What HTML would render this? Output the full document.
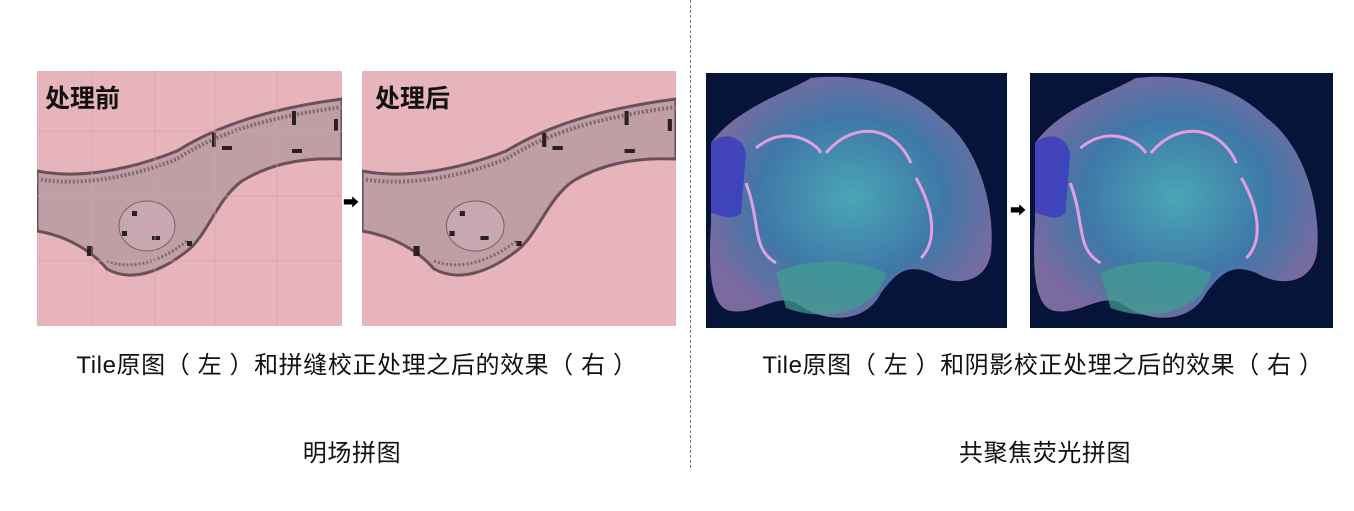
<!DOCTYPE html>
<html><head><meta charset="utf-8"><style>
body{margin:0;width:1354px;height:511px;background:#fff;position:relative;overflow:hidden;font-family:"Liberation Sans","Noto Sans CJK SC",sans-serif;}
.a{position:absolute}
.cap{position:absolute;font-size:24px;color:#111;white-space:nowrap;transform:translateX(-50%);letter-spacing:0.6px}
.lab{position:absolute;font-size:25px;color:#111;font-weight:bold;font-family:"Liberation Sans","Noto Sans CJK SC",sans-serif}
</style></head><body>
<svg width="0" height="0" style="position:absolute">
<defs>
<symbol id="leaf" viewBox="0 0 305 255" preserveAspectRatio="none">
<rect width="305" height="255" fill="#e8b4bc"/>
<path d="M0,100 C40,108 90,100 140,80 C180,55 230,38 305,28 L305,88 C260,86 230,95 205,110 C180,128 170,165 150,180 C125,200 95,212 70,198 C55,180 30,165 0,160 Z" fill="#c09ea6" stroke="#6a5058" stroke-width="3"/>
<path d="M0,108 C40,115 90,108 140,88 C180,62 230,46 305,36" fill="none" stroke="#806870" stroke-width="4" stroke-dasharray="2 2"/>
<path d="M70,190 C95,200 125,190 150,170" fill="none" stroke="#806870" stroke-width="3" stroke-dasharray="2 2"/>
<ellipse cx="110" cy="155" rx="28" ry="25" fill="#c8a8b0" stroke="#7a6068"/>
<g fill="#2a2024"><rect x="175" y="62" width="4" height="14"/><rect x="255" y="40" width="4" height="14"/><rect x="297" y="48" width="4" height="12"/><rect x="185" y="75" width="10" height="4"/><rect x="255" y="78" width="10" height="4"/><rect x="95" y="140" width="5" height="5"/><rect x="115" y="165" width="8" height="4"/><rect x="150" y="170" width="5" height="5"/><rect x="85" y="160" width="5" height="5"/><rect x="50" y="175" width="6" height="10"/></g>
</symbol>
<radialGradient id="bg1" cx="50%" cy="50%" r="55%"><stop offset="0" stop-color="#4aa6b6"/><stop offset=".6" stop-color="#3f78a8"/><stop offset="1" stop-color="#7a6aa0"/></radialGradient>
<symbol id="brain" viewBox="0 0 301 255" preserveAspectRatio="none">
<rect width="301" height="255" fill="#07143a"/>
<path d="M5,70 C30,35 80,20 105,5 C150,0 200,10 235,45 C270,70 290,130 285,180 C280,210 250,215 225,200 C200,190 190,200 175,220 C160,250 120,252 90,230 C70,220 50,242 25,238 C5,235 2,200 5,150 Z" fill="url(#bg1)"/>
<path d="M5,70 C15,60 35,60 40,80 L35,140 C25,150 10,140 5,140 Z" fill="#3a3ac0" opacity=".8"/>
<path d="M50,75 C80,50 110,70 115,80 M120,80 C150,45 190,55 205,90 M40,110 C55,150 45,175 70,190 M210,105 C230,140 230,170 215,185" fill="none" stroke="#e0a0e0" stroke-width="3"/>
<path d="M70,200 C100,185 150,185 180,200 C170,240 120,250 80,235 Z" fill="#40a090" opacity=".7"/>
</symbol>
</defs></svg>

<svg class="a" style="left:37px;top:71px" width="305" height="255"><use href="#leaf" width="305" height="255"/>
<g stroke="#d8a0aa" stroke-width="1" opacity=".7"><line x1="0" y1="60" x2="305" y2="60"/><line x1="0" y1="125" x2="305" y2="125"/><line x1="0" y1="190" x2="305" y2="190"/><line x1="55" y1="0" x2="55" y2="255"/><line x1="118" y1="0" x2="118" y2="255"/><line x1="178" y1="0" x2="178" y2="255"/><line x1="240" y1="0" x2="240" y2="255"/></g></svg>
<div class="lab" style="left:45px;top:79px">处理前</div>
<div class="a" style="left:343px;top:189px;font-size:16px;color:#000">➡</div>
<svg class="a" style="left:362px;top:71px" width="314" height="255"><use href="#leaf" width="314" height="255"/></svg>
<div class="lab" style="left:375px;top:79px">处理后</div>
<div class="cap" style="left:357px;top:345px">Tile原图（ 左 ）和拼缝校正处理之后的效果（ 右 ）</div>
<div class="cap" style="left:352px;top:433px">明场拼图</div>

<div class="a" style="left:690px;top:0;height:468px;border-left:1px dashed #777"></div>

<svg class="a" style="left:706px;top:73px" width="301" height="255"><use href="#brain" width="301" height="255"/></svg>
<div class="a" style="left:1010px;top:197px;font-size:16px;color:#000">➡</div>
<svg class="a" style="left:1030px;top:73px" width="303" height="255"><use href="#brain" width="303" height="255"/></svg>
<div class="cap" style="left:1043px;top:345px">Tile原图（ 左 ）和阴影校正处理之后的效果（ 右 ）</div>
<div class="cap" style="left:1045px;top:433px">共聚焦荧光拼图</div>
</body></html>
